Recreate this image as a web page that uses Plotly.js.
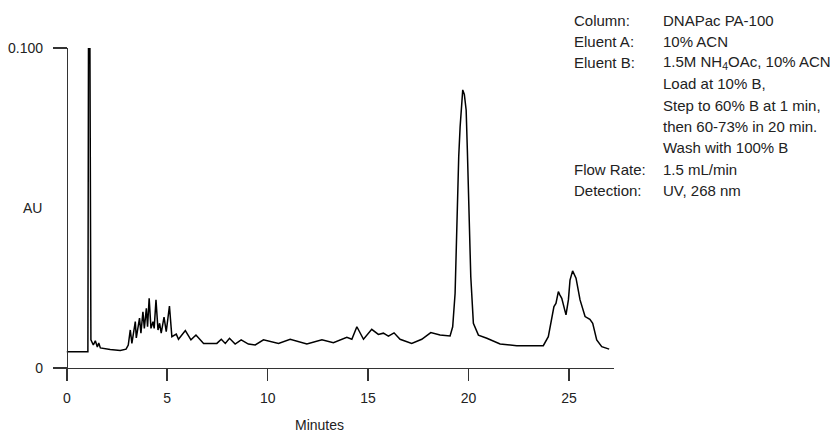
<!DOCTYPE html>
<html>
<head>
<meta charset="utf-8">
<script src="https://cdn.plot.ly/plotly-3.0.1.min.js"></script>
<style>html,body{margin:0;padding:0;background:#fff;}#chart{width:835px;height:433px;}</style>
</head>
<body>
<div id="chart"></div>
<script>
// Chromatogram data (minutes, AU)
const minutes = [0,1.05,1.08,1.15,1.20,1.32,1.42,1.52,1.59,1.67,2.16,2.66,2.95,3.06,3.16,3.24,3.41,3.46,3.62,3.69,3.79,3.86,3.96,4.02,4.10,4.19,4.29,4.35,4.44,4.54,4.62,4.70,4.84,4.95,5.11,5.23,5.45,5.56,5.90,6.18,6.43,6.81,7.47,7.69,7.89,8.10,8.38,8.68,9.04,9.38,9.79,10.54,11.12,11.95,12.70,13.27,13.94,14.19,14.44,14.77,15.18,15.51,15.76,16.01,16.29,16.59,17.17,17.67,18.12,18.58,19.08,19.21,19.33,19.44,19.51,19.58,19.65,19.71,19.79,19.88,19.94,19.99,20.11,20.24,20.49,20.91,21.57,22.40,23.72,23.97,24.25,24.35,24.47,24.55,24.64,24.85,24.97,25.05,25.18,25.35,25.55,25.80,26.04,26.18,26.38,26.63,27.00];
const au = [0.0050,0.0050,0.102,0.102,0.0087,0.0071,0.0084,0.0065,0.0077,0.0062,0.0057,0.0054,0.0058,0.0071,0.0118,0.0076,0.0144,0.0093,0.0155,0.0108,0.0175,0.0123,0.0186,0.0128,0.0217,0.0123,0.0144,0.0123,0.0212,0.0118,0.0139,0.0108,0.0158,0.0113,0.0193,0.0097,0.0105,0.0089,0.0116,0.0087,0.0102,0.0076,0.0076,0.0089,0.0076,0.0092,0.0074,0.0087,0.0074,0.0071,0.0087,0.0076,0.0089,0.0074,0.0087,0.0078,0.0095,0.0089,0.0128,0.0089,0.0120,0.0104,0.0108,0.0099,0.0109,0.0089,0.0076,0.0089,0.0110,0.0102,0.0099,0.0128,0.0233,0.0546,0.066,0.0754,0.0825,0.0869,0.0855,0.0806,0.068,0.0546,0.0285,0.0139,0.0102,0.0092,0.0074,0.0069,0.0069,0.0097,0.0191,0.0201,0.0238,0.0227,0.0217,0.0165,0.0212,0.0274,0.0303,0.0280,0.0212,0.0160,0.0151,0.0139,0.0087,0.0066,0.0058];

const xTickVals = [0,5,10,15,20,25];
const xTickText = ['0','5','10','15','20','25'];
const yTickVals = [0,0.1];
const yTickText = ['0','0.100'];

const infoLabels = ['Column:','Eluent A:','Eluent B:','','','','','Flow Rate:','Detection:'];
const infoValues = ['DNAPac PA-100','10% ACN','1.5M NH<sub>4</sub>OAc, 10% ACN','Load at 10% B,','Step to 60% B at 1 min,','then 60-73% in 20 min.','Wash with 100% B','1.5 mL/min','UV, 268 nm'];

const FONT = 'Liberation Sans, Arial, sans-serif';
const TXT = '#222';

// geometry of plot area (px)
const L = 53, R = 614, T = 48, B = 380;
const W = 835, H = 433;
const pw = R - L, ph = B - T;
function px2paperX(px){ return (px - L) / pw; }
function px2paperY(py){ return (B - py) / ph; }

const annotations = [];
const lineY0 = 20, pitch = 21.3;
infoLabels.forEach((t, i) => {
  if (t) annotations.push({text: t, xref: 'paper', yref: 'paper', x: px2paperX(572), y: px2paperY(lineY0 + i*pitch),
    xanchor: 'left', yanchor: 'middle', showarrow: false, font: {family: FONT, size: 15, color: TXT}});
});
infoValues.forEach((t, i) => {
  annotations.push({text: t, xref: 'paper', yref: 'paper', x: px2paperX(661), y: px2paperY(lineY0 + i*pitch),
    xanchor: 'left', yanchor: 'middle', showarrow: false, font: {family: FONT, size: 15, color: TXT}});
});
annotations.push({text: 'AU', xref: 'paper', yref: 'y', x: px2paperX(44), y: 0.05, xanchor: 'right', yanchor: 'middle',
  showarrow: false, font: {family: FONT, size: 14, color: TXT}});
annotations.push({text: 'Minutes', xref: 'x', yref: 'paper', x: 12.6, y: px2paperY(425), xanchor: 'center', yanchor: 'middle',
  showarrow: false, font: {family: FONT, size: 14, color: TXT}});

const xmin = -0.687, xmax = 27.24;
const ymin = -0.00385, ymax = 0.1;

const trace = {x: minutes, y: au, type: 'scatter', mode: 'lines', line: {color: '#000', width: 1.5}, hoverinfo: 'skip'};

const layout = {
  width: W, height: H,
  margin: {l: L, r: W - R, t: T, b: H - B, pad: 0},
  paper_bgcolor: '#fff', plot_bgcolor: '#fff',
  showlegend: false,
  font: {family: FONT, size: 14, color: TXT},
  xaxis: {range: [xmin, xmax], anchor: 'free', position: (0 - ymin) / (ymax - ymin),
    showline: true, linecolor: '#333', linewidth: 1.5, showgrid: false, zeroline: false,
    ticks: 'outside', ticklen: 12, tickwidth: 1.5, tickcolor: '#333', ticklabelstandoff: 5,
    tickmode: 'array', tickvals: xTickVals, ticktext: xTickText, tickfont: {family: FONT, size: 14, color: TXT}},
  yaxis: {range: [ymin, ymax], anchor: 'free', position: (0 - xmin) / (xmax - xmin),
    showline: true, linecolor: '#333', linewidth: 1.5, showgrid: false, zeroline: false,
    ticks: 'outside', ticklen: 14, tickwidth: 1.5, tickcolor: '#333', ticklabelstandoff: 7,
    tickmode: 'array', tickvals: yTickVals, ticktext: yTickText, tickfont: {family: FONT, size: 14, color: TXT}},
  annotations: annotations
};

Plotly.newPlot('chart', [trace], layout, {staticPlot: true, displayModeBar: false});
</script>
</body>
</html>
